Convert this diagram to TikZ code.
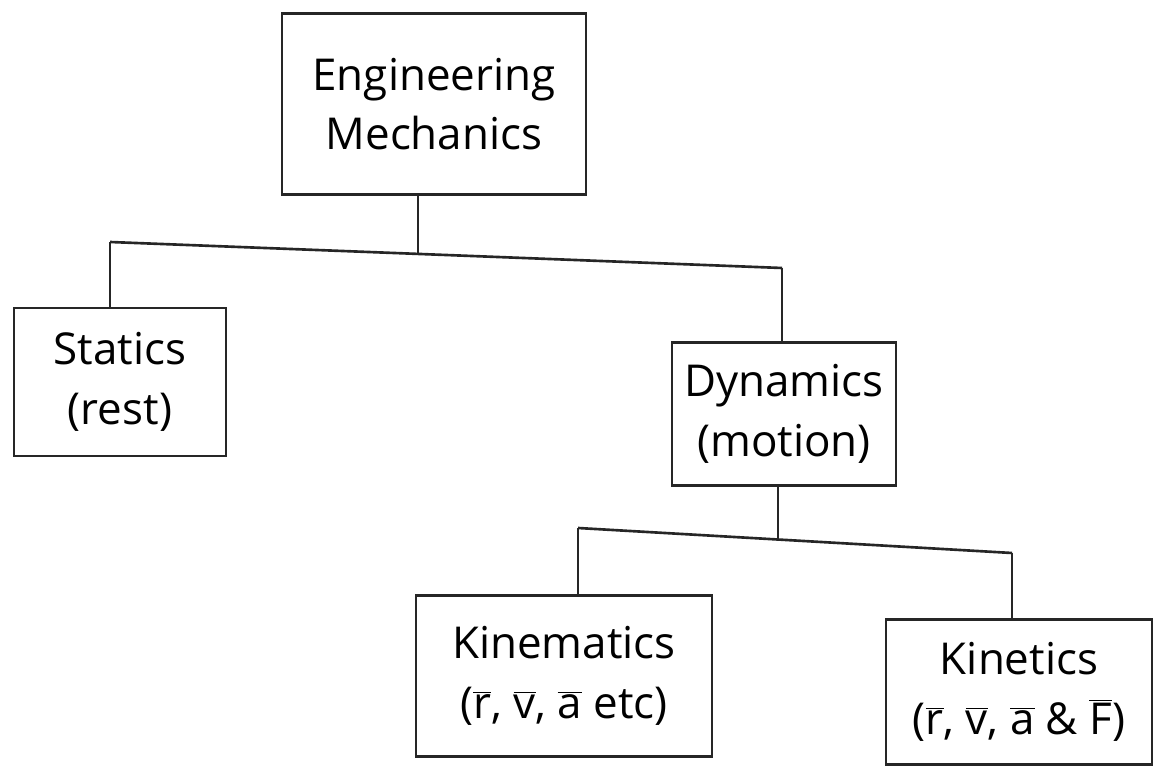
\documentclass[tikz,border=0pt]{standalone}
\usepackage{fontspec}
\setmainfont{Open Sans}
\newcommand{\ovl}[1]{$\overline{\mbox{#1}}$}
\begin{document}
\begin{tikzpicture}[
  box/.style={draw=black!85, line width=1.5pt, align=center, inner sep=0pt,
    font=\fontsize{25}{34}\selectfont},
  link/.style={draw=black!85, line width=1.5pt}
]
\useasboundingbox[fill=white] (0,0) rectangle (23.08,-15.48);

\node[box, minimum width=6.08cm, minimum height=3.62cm] (em) at (8.68,-2.08) {Engineering\\Mechanics};
\node[box, minimum width=4.24cm, minimum height=2.96cm] (st) at (2.40,-7.64) {Statics\\(rest)};
\node[box, minimum width=4.48cm, minimum height=2.86cm] (dy) at (15.68,-8.28) {Dynamics\\(motion)};
\node[box, minimum width=5.92cm, minimum height=3.22cm] (km) at (11.28,-13.52) {Kinematics\\(\ovl{r}, \ovl{v}, \ovl{a} etc)};
\node[box, minimum width=5.32cm, minimum height=2.90cm] (kt) at (20.38,-13.84) {Kinetics\\(\ovl{r}, \ovl{v}, \ovl{a} \& \ovl{F})};

% first level bar
\coordinate (bl) at (2.20,-4.84);
\coordinate (br) at (15.64,-5.36);
\coordinate (j1) at (8.36,-5.08);
\draw[link] (bl) -- (br);
\draw[link] (em.south -| j1) -- (j1);
\draw[link] (bl) -- (st.north -| bl);
\draw[link] (br) -- (dy.north -| br);

% second level bar
\coordinate (cl) at (11.56,-10.56);
\coordinate (cr) at (20.24,-11.06);
\coordinate (j2) at (15.56,-10.79);
\draw[link] (cl) -- (cr);
\draw[link] (dy.south -| j2) -- (j2);
\draw[link] (cl) -- (km.north -| cl);
\draw[link] (cr) -- (kt.north -| cr);
\end{tikzpicture}
\end{document}
